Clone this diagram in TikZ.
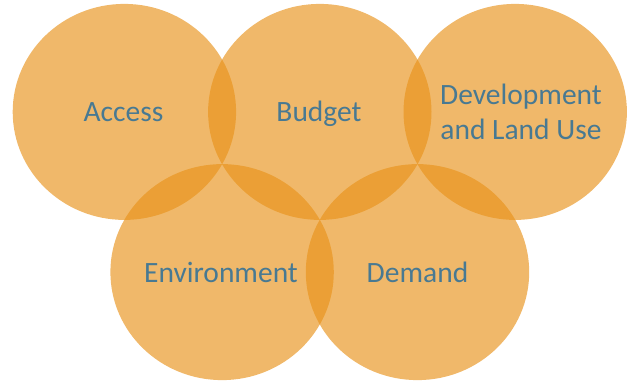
\documentclass[tikz,border=0pt]{standalone}
\usepackage{fontspec}
\setmainfont{Carlito}
\usetikzlibrary{shapes.geometric}
\definecolor{ringfill}{RGB}{232,146,26}
\definecolor{labeltext}{RGB}{72,121,146}
\tikzset{
  ring/.style={ellipse, inner sep=0pt, minimum width=223.4pt, minimum height=216pt,
    fill=ringfill, fill opacity=0.65, draw=none},
  ringlabel/.style={anchor=base, text=labeltext, inner sep=0pt,
    font=\fontsize{29.5}{34.5}\selectfont, align=center}
}
\begin{document}
\begin{tikzpicture}[x=1pt,y=-1pt]
  \useasboundingbox (0,0) rectangle (629,381);
  % five overlapping rings, top row then bottom row
  \node[ring] (access) at (124.4,111.9) {};
  \node[ring] (budget) at (319.8,111.9) {};
  \node[ring] (devel)  at (515.2,111.9) {};
  \node[ring] (envir)  at (222.1,272.1) {};
  \node[ring] (demand) at (417.5,272.1) {};
  % labels (a two-line label sits on the baseline of its last line)
  \node[ringlabel] (taccess) at (123.5,121) {Access};
  \node[ringlabel] (tbudget) at (319,121) {Budget};
  \node[ringlabel] (tdevel)  at (521,139) {Development\\and Land Use};
  \node[ringlabel] (tenvir)  at (221,282) {Environment};
  \node[ringlabel] (tdemand) at (417.5,282) {Demand};
\end{tikzpicture}
\end{document}
